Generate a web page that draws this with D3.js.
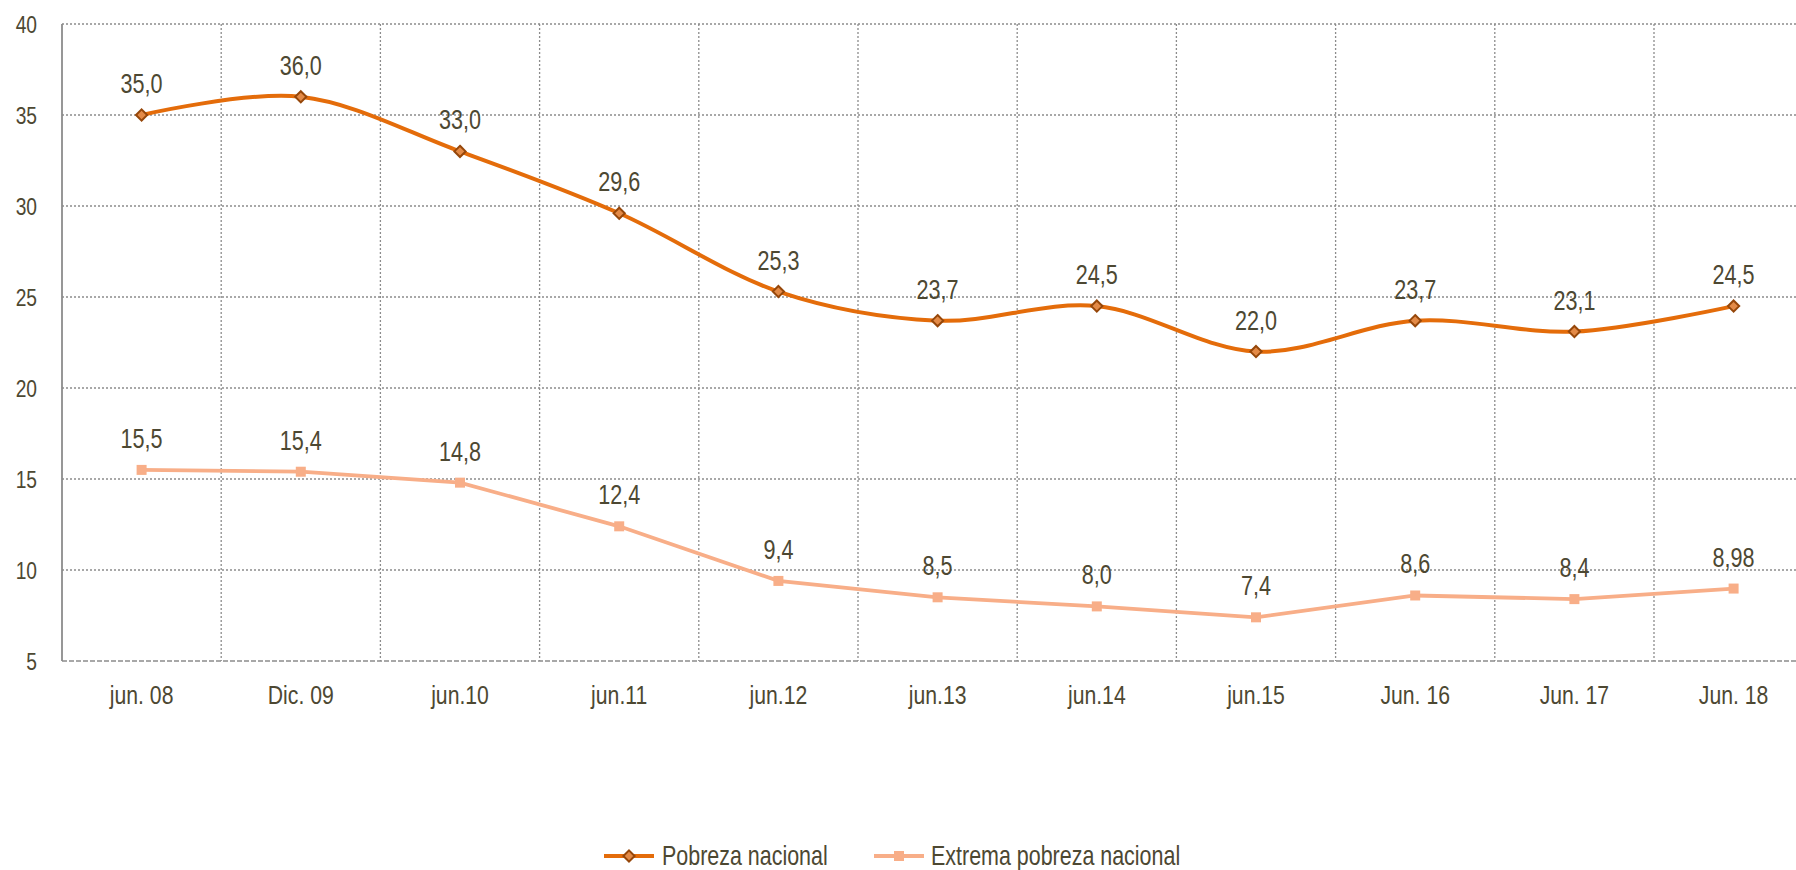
<!DOCTYPE html>
<html>
<head>
<meta charset="utf-8">
<script src="https://cdn.jsdelivr.net/npm/d3@7"></script>
<style>
  html, body { margin: 0; padding: 0; background: #ffffff; }
  svg { display: block; }
  text { font-family: "Liberation Sans", Arial, sans-serif; fill: #4d4832; }
</style>
</head>
<body>
<svg id="chart" width="1796" height="870"></svg>
<script>
const categories = ["jun. 08", "Dic. 09", "jun.10", "jun.11", "jun.12", "jun.13", "jun.14", "jun.15", "Jun. 16", "Jun. 17", "Jun. 18"];
const pobreza = [35.0, 36.0, 33.0, 29.6, 25.3, 23.7, 24.5, 22.0, 23.7, 23.1, 24.5];
const pobrezaLabels = ["35,0", "36,0", "33,0", "29,6", "25,3", "23,7", "24,5", "22,0", "23,7", "23,1", "24,5"];
const extrema = [15.5, 15.4, 14.8, 12.4, 9.4, 8.5, 8.0, 7.4, 8.6, 8.4, 8.98];
const extremaLabels = ["15,5", "15,4", "14,8", "12,4", "9,4", "8,5", "8,0", "7,4", "8,6", "8,4", "8,98"];
const yTicks = [5, 10, 15, 20, 25, 30, 35, 40];
const seriesNames = ["Pobreza nacional", "Extrema pobreza nacional"];

const NARROW = 0.8;
const svg = d3.select("#chart");
const pLeft = 62, pTop = 24, pBottom = 661, step = 159.2;
const x = d3.scaleBand().domain(categories).range([pLeft, pLeft + step * categories.length]).padding(0);
const y = d3.scaleLinear().domain([5, 40]).range([pBottom, pTop]);
const cx = c => x(c) + x.bandwidth() / 2;

const grid = svg.append("g");
grid.selectAll("line.h").data(yTicks.filter(t => t > 5)).join("line")
  .attr("x1", pLeft).attr("x2", 1796)
  .attr("y1", d => y(d)).attr("y2", d => y(d))
  .attr("stroke", "#8c8c8c").attr("stroke-width", 1.3).attr("stroke-dasharray", "2,2");
grid.selectAll("line.v").data(categories.slice(1)).join("line")
  .attr("x1", d => x(d)).attr("x2", d => x(d))
  .attr("y1", pTop).attr("y2", pBottom)
  .attr("stroke", "#8c8c8c").attr("stroke-width", 1.3).attr("stroke-dasharray", "2,2");

svg.append("line").attr("x1", pLeft).attr("x2", 1796).attr("y1", pBottom).attr("y2", pBottom)
  .attr("stroke", "#8c8c8c").attr("stroke-width", 1.5).attr("stroke-dasharray", "5,2");
svg.append("line").attr("x1", pLeft).attr("x2", pLeft).attr("y1", pTop).attr("y2", pBottom)
  .attr("stroke", "#8c8c8c").attr("stroke-width", 1.8);

const yAxis = d3.axisLeft(y).tickValues(yTicks).tickSize(0).tickPadding(0).tickFormat(d3.format("d"));
const yg = svg.append("g").attr("transform", `translate(${pLeft - 25},0)`).call(yAxis);
yg.select(".domain").remove();
yg.attr("font-family", null).attr("font-size", null);
yg.selectAll("text").attr("font-size", 24).attr("fill", "#4d4832").attr("x", 0).attr("dy", "0.36em")
  .attr("transform", `scale(${NARROW},1)`);

const xAxis = d3.axisBottom(x).tickSize(0).tickPadding(0);
const xg = svg.append("g").attr("transform", `translate(0,704)`).call(xAxis);
xg.select(".domain").remove();
xg.attr("font-family", null).attr("font-size", null);
xg.selectAll("text").attr("font-size", 26.5).attr("fill", "#4d4832").attr("y", 0).attr("dy", 0)
  .attr("transform", `scale(${NARROW},1)`);

const pobLine = d3.line().x((d, i) => cx(categories[i])).y(d => y(d)).curve(d3.curveCatmullRom.alpha(0));
const extLine = d3.line().x((d, i) => cx(categories[i])).y(d => y(d)).curve(d3.curveLinear);

svg.append("path").datum(extrema).attr("d", extLine)
  .attr("fill", "none").attr("stroke", "#f8ae88").attr("stroke-width", 3.8);
svg.append("path").datum(pobreza).attr("d", pobLine)
  .attr("fill", "none").attr("stroke", "#e46c0a").attr("stroke-width", 4);

svg.selectAll("rect.ext").data(extrema).join("rect")
  .attr("x", (d, i) => cx(categories[i]) - 5).attr("y", d => y(d) - 5)
  .attr("width", 10).attr("height", 10).attr("fill", "#f8ae88");
const diamond = d3.symbol().type(d3.symbolDiamond2).size(80);
svg.selectAll("path.pob").data(pobreza).join("path")
  .attr("d", diamond)
  .attr("transform", (d, i) => `translate(${cx(categories[i])},${y(d)})`)
  .attr("fill", "#e38a47").attr("stroke", "#96470a").attr("stroke-width", 2);

svg.selectAll("text.pl").data(pobreza).join("text")
  .attr("transform", (d, i) => `translate(${cx(categories[i])},${y(d) - 22}) scale(${NARROW},1)`)
  .attr("text-anchor", "middle").attr("font-size", 27).text((d, i) => pobrezaLabels[i]);
svg.selectAll("text.el").data(extrema).join("text")
  .attr("transform", (d, i) => `translate(${cx(categories[i])},${y(d) - 22}) scale(${NARROW},1)`)
  .attr("text-anchor", "middle").attr("font-size", 27).text((d, i) => extremaLabels[i]);

const lg = svg.append("g");
const legendY = 856;
const items = [
  {name: seriesNames[0], x1: 604, x2: 654, tx: 662, color: "#e46c0a", w: 4, marker: "diamond"},
  {name: seriesNames[1], x1: 874, x2: 924, tx: 931, color: "#f8ae88", w: 3.8, marker: "square"}
];
items.forEach(it => {
  lg.append("line").attr("x1", it.x1).attr("x2", it.x2).attr("y1", legendY).attr("y2", legendY)
    .attr("stroke", it.color).attr("stroke-width", it.w);
  const mx = (it.x1 + it.x2) / 2;
  if (it.marker === "diamond") {
    lg.append("path").attr("d", diamond).attr("transform", `translate(${mx},${legendY})`)
      .attr("fill", "#e38a47").attr("stroke", "#96470a").attr("stroke-width", 2);
  } else {
    lg.append("rect").attr("x", mx - 5).attr("y", legendY - 5).attr("width", 10).attr("height", 10).attr("fill", it.color);
  }
  lg.append("text").attr("transform", `translate(${it.tx},865) scale(0.78,1)`)
    .attr("font-size", 27.5).text(it.name);
});
</script>
</body>
</html>
